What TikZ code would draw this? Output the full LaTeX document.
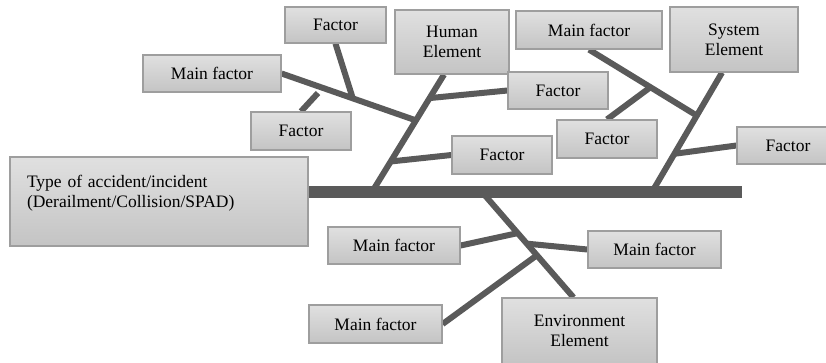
\documentclass[tikz,border=0pt]{standalone}
\usepackage{fontspec}
\setmainfont{Liberation Serif}
\usetikzlibrary{calc,backgrounds}
\definecolor{boxtop}{RGB}{224,224,224}
\definecolor{boxbot}{RGB}{196,196,196}
\definecolor{boxline}{RGB}{158,158,158}
\definecolor{bonegray}{RGB}{90,90,90}

\begin{document}
\begin{tikzpicture}[x=1pt,y=-1pt,
    box/.style={draw=boxline,line width=1.2pt,top color=boxtop,bottom color=boxbot,
      inner sep=0pt,align=center,font=\fontsize{17.5}{20}\selectfont},
    bone/.style={draw=bonegray,line width=6pt},
    spine/.style={draw=bonegray,line width=12pt}]
    \useasboundingbox (0,0) rectangle (826,362);
    \node[box,minimum width=298pt,minimum height=89pt,text width=264pt,align=left] (type) at (159,201.5)
      {Type of accident/incident\\(Derailment/Collision/SPAD)\\\mbox{}};
    \node[box,minimum width=101pt,minimum height=36pt] (f1) at (335.5,25) {Factor};
    \node[box,minimum width=138pt,minimum height=37pt] (m1) at (212,73.5) {Main factor};
    \node[box,minimum width=100pt,minimum height=38pt] (f2) at (301,131) {Factor};
    \node[box,minimum width=114pt,minimum height=64pt] (human) at (452,42) {Human\\Element};
    \node[box,minimum width=100pt,minimum height=37pt] (f3) at (558,90.5) {Factor};
    \node[box,minimum width=100pt,minimum height=38pt] (f5) at (502,155) {Factor};
    \node[box,minimum width=146pt,minimum height=38pt] (m2) at (589,30) {Main factor};
    \node[box,minimum width=128pt,minimum height=65pt] (system) at (734,39.5) {System\\Element};
    \node[box,minimum width=100pt,minimum height=38pt] (f4) at (607,139) {Factor};
    \node[box,minimum width=102pt,minimum height=37pt] (f6) at (788,145.5) {Factor};
    \node[box,minimum width=132pt,minimum height=37pt] (m3) at (394,245.5) {Main factor};
    \node[box,minimum width=133pt,minimum height=37pt] (m4) at (654.5,249.5) {Main factor};
    \node[box,minimum width=133pt,minimum height=38pt] (m5) at (375.5,324) {Main factor};
    \node[box,minimum width=155pt,minimum height=66pt] (env) at (579.5,331) {Environment\\Element};
    \coordinate (tail) at (742,192);
    \coordinate (hbase) at (372,192);
    \coordinate (sbase) at (652,192);
    \coordinate (ebase) at (482,192);
    \coordinate (stub) at (318,93);
    \begin{scope}[on background layer]
      \draw[spine] (type.east |- tail) -- (tail);
      \draw[bone] (hbase) -- ([xshift=-8pt]human.south) coordinate[pos=.61] (hm1)
        coordinate[pos=.80] (hf3) coordinate[pos=.26] (hf5);
      \draw[bone] (m1.east) -- (hm1) coordinate[pos=.53] (mf1);
      \draw[bone] (f1.south) -- (mf1);
      \draw[bone] (f2.north) -- (stub);
      \draw[bone] (f3.west) -- (hf3);
      \draw[bone] (f5.west) -- (hf5);
      \draw[bone] (sbase) -- ([xshift=-12pt]system.south) coordinate[pos=.64] (sm2)
        coordinate[pos=.32] (sf6);
      \draw[bone] (m2.south) -- (sm2) coordinate[pos=.57] (mf4);
      \draw[bone] (f4.north) -- (mf4);
      \draw[bone] (f6.west) -- (sf6);
      \draw[bone] (ebase) -- ([xshift=-6pt]env.north) coordinate[pos=.39] (em3)
        coordinate[pos=.49] (em4) coordinate[pos=.60] (em5);
      \draw[bone] (m3.east) -- (em3);
      \draw[bone] (m4.west) -- (em4);
      \draw[bone] (m5.east) -- (em5);
    \end{scope}
  \end{tikzpicture}
\end{document}
